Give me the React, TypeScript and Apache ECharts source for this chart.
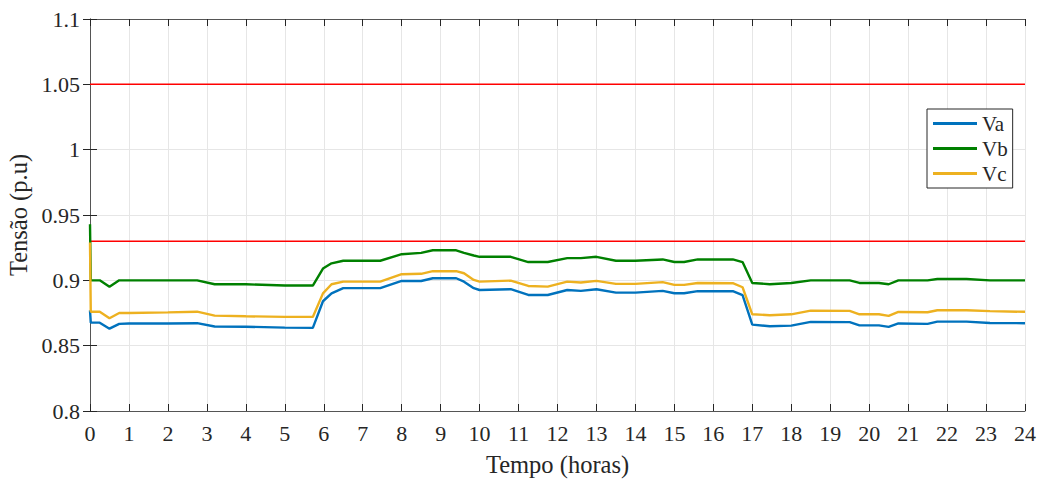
import React, { useEffect, useRef } from "react";
import * as echarts from "echarts";

const hours = [0, 0.02, 0.25, 0.5, 0.75, 1, 2, 2.75, 3.2, 4, 5, 5.72, 5.98, 6.2, 6.5, 7, 7.45, 8, 8.5, 8.8, 9.4, 9.6, 9.85, 10, 10.8, 11.25, 11.75, 12.25, 12.6, 13, 13.5, 14, 14.7, 15, 15.25, 15.6, 16.5, 16.75, 17, 17.45, 18, 18.5, 19.5, 19.75, 20.25, 20.5, 20.75, 21.5, 21.75, 22.5, 23.1, 24];

const va = [0.877, 0.8676, 0.8676, 0.863, 0.8667, 0.867, 0.867, 0.8672, 0.8647, 0.8645, 0.8638, 0.8636, 0.884, 0.89, 0.894, 0.894, 0.894, 0.8996, 0.8995, 0.9016, 0.9016, 0.899, 0.894, 0.8926, 0.8932, 0.8888, 0.8888, 0.8926, 0.8919, 0.8932, 0.8906, 0.8906, 0.8919, 0.8901, 0.8901, 0.8917, 0.8917, 0.8886, 0.8661, 0.8649, 0.8653, 0.8682, 0.868, 0.8655, 0.8655, 0.8644, 0.867, 0.8667, 0.8684, 0.8684, 0.8674, 0.8672];

const vb = [0.943, 0.9, 0.9, 0.895, 0.9, 0.9, 0.9, 0.9, 0.897, 0.897, 0.896, 0.896, 0.909, 0.913, 0.915, 0.915, 0.915, 0.92, 0.921, 0.923, 0.923, 0.921, 0.919, 0.918, 0.918, 0.914, 0.914, 0.917, 0.917, 0.918, 0.915, 0.915, 0.916, 0.914, 0.914, 0.916, 0.916, 0.914, 0.898, 0.897, 0.898, 0.9, 0.9, 0.898, 0.898, 0.897, 0.9, 0.9, 0.901, 0.901, 0.9, 0.9];

const vc = [0.929, 0.876, 0.876, 0.871, 0.875, 0.875, 0.8755, 0.876, 0.873, 0.8725, 0.872, 0.872, 0.89, 0.897, 0.899, 0.899, 0.899, 0.9047, 0.905, 0.907, 0.907, 0.9054, 0.9003, 0.899, 0.8998, 0.8957, 0.8952, 0.899, 0.8983, 0.8996, 0.8973, 0.8973, 0.8986, 0.8965, 0.8965, 0.898, 0.8978, 0.8947, 0.874, 0.8733, 0.874, 0.8768, 0.8766, 0.874, 0.874, 0.8728, 0.8758, 0.8756, 0.8771, 0.8771, 0.8764, 0.8759];

const limitUpper = 1.05;
const limitLower = 0.93;
const xRange = [0, 24];
const yRange = [0.8, 1.1];

const seriesNames = ["Va", "Vb", "Vc"];
const seriesColors = ["#0072BD", "#008000", "#EDB120"];

const FONT = "Liberation Serif";
const TXT = "#262626";

export default function App() {
  const ref = useRef<HTMLDivElement>(null);
  useEffect(() => {
    if (!ref.current) return;
    const chart = echarts.init(ref.current, undefined, { renderer: "svg" });
    const values = [va, vb, vc];
    const lines = values.map((arr, i) => ({
      name: seriesNames[i],
      type: "line",
      data: hours.map((h, k) => [h, arr[k]]),
      showSymbol: false,
      symbol: "none",
      lineStyle: { color: seriesColors[i], width: 2.4 },
      itemStyle: { color: seriesColors[i] },
      z: 3,
    }));
    const limit = (v: number, n: string) => ({
      name: n,
      type: "line",
      data: [[xRange[0], v], [xRange[1], v]],
      showSymbol: false,
      symbol: "none",
      lineStyle: { color: "#FF0000", width: 1.5 },
      z: 2,
    });
    const axisCommon = {
      axisLine: { show: true, lineStyle: { color: "#555555", width: 1 } },
      axisTick: { show: true, inside: true, length: 7, lineStyle: { color: "#262626" } },
    };
    chart.setOption({
      animation: false,
      textStyle: { fontFamily: FONT },
      grid: { left: 90, right: 18, top: 19, bottom: 71, containLabel: false, outerBoundsMode: "none" },
      legend: {
        data: seriesNames,
        orient: "vertical",
        left: 927,
        top: 109,
        icon: "rect",
        itemWidth: 44,
        itemHeight: 3,
        itemGap: 4,
        padding: [4, 5, 4, 6],
        backgroundColor: "#ffffff",
        borderColor: "#262626",
        borderWidth: 1,
        borderRadius: 0,
        textStyle: { fontFamily: FONT, fontSize: 21, color: TXT, lineHeight: 20 },
      },
      xAxis: [
        {
          type: "value",
          min: xRange[0],
          max: xRange[1],
          interval: 1,
          name: "Tempo (horas)",
          nameLocation: "middle",
          nameGap: 41,
          nameTextStyle: { fontFamily: FONT, fontSize: 24.5, color: TXT },
          axisLabel: { fontFamily: FONT, fontSize: 22, color: TXT, margin: 11 },
          splitLine: { show: true, lineStyle: { color: "#e6e6e6", width: 1 } },
          ...axisCommon,
        },
        {
          type: "value",
          position: "top",
          min: xRange[0],
          max: xRange[1],
          interval: 1,
          axisLabel: { show: false },
          splitLine: { show: false },
          ...axisCommon,
        },
      ],
      yAxis: [
        {
          type: "value",
          min: yRange[0],
          max: yRange[1],
          interval: 0.05,
          name: "Tensão (p.u)",
          nameLocation: "middle",
          nameGap: 56,
          nameTextStyle: { fontFamily: FONT, fontSize: 24.5, color: TXT },
          axisLabel: {
            fontFamily: FONT,
            fontSize: 22,
            color: TXT,
            margin: 10,
            formatter: (v: number) => String(parseFloat(v.toFixed(2))),
          },
          splitLine: { show: true, lineStyle: { color: "#e6e6e6", width: 1 } },
          ...axisCommon,
        },
        {
          type: "value",
          position: "right",
          min: yRange[0],
          max: yRange[1],
          interval: 0.05,
          axisLabel: { show: false },
          splitLine: { show: false },
          ...axisCommon,
        },
      ],
      series: [limit(limitUpper, "limSup"), limit(limitLower, "limInf"), ...lines],
    });
    return () => chart.dispose();
  }, []);
  return <div ref={ref} style={{ width: 1043, height: 482, position: "absolute", left: 0, top: 0 }} />;
}
